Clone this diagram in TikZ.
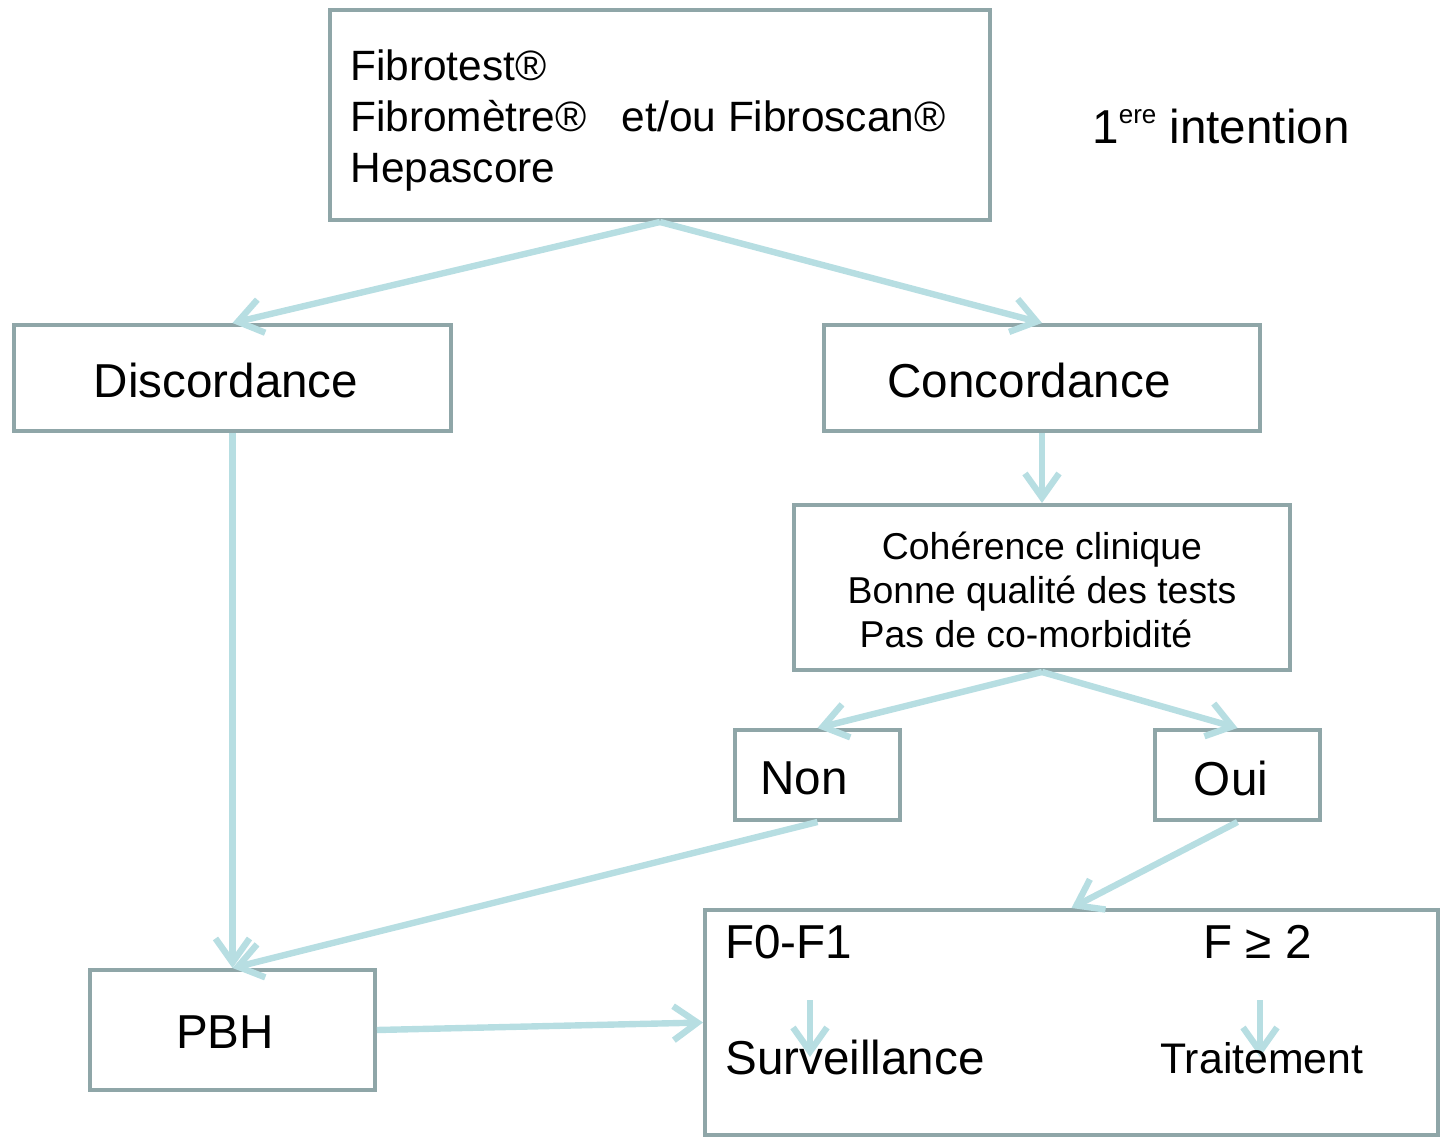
\documentclass[tikz,border=0pt]{standalone}
\usepackage{fontspec}
\setmainfont{Liberation Sans}
\usetikzlibrary{arrows.meta}
\definecolor{boxgray}{RGB}{143,166,168}
\definecolor{flowblue}{RGB}{183,222,226}

\tikzset{
box/.style={draw=boxgray,line width=2pt,inner sep=0pt},
flow/.style={draw=flowblue,line width=3.2pt,-{Straight Barb[length=12pt,width=17pt]}},
txt/.style={inner sep=0pt,font=\fontsize{#1}{#1}\selectfont},
}

\begin{document}
\begin{tikzpicture}[x=0.5pt,y=-0.5pt]
\useasboundingbox (0,0) rectangle (1441,1139);
% boxes
\node[box,minimum width=330pt,minimum height=105pt] (tests) at (660,115) {};
\node[box,minimum width=218.5pt,minimum height=53pt] (disc) at (232.5,378) {};
\node[box,minimum width=218pt,minimum height=53pt] (conc) at (1042,378) {};
\node[box,minimum width=248pt,minimum height=82.5pt] (coh) at (1042,587.5) {};
\node[box,minimum width=82.5pt,minimum height=45pt] (non) at (817.5,775) {};
\node[box,minimum width=82.5pt,minimum height=45pt] (oui) at (1237.5,775) {};
\node[box,minimum width=142.5pt,minimum height=60pt] (pbh) at (232.5,1030) {};
\node[box,minimum width=366.5pt,minimum height=112.5pt] (result) at (1071.5,1022.5) {};
% connectors
\draw[flow] (tests.south) -- (disc.north);
\draw[flow] (tests.south) -- (conc.north);
\draw[flow] (conc.south) -- (coh.north);
\draw[flow] (coh.south) -- (non.north);
\draw[flow] (coh.south) -- (oui.north);
\draw[flow] (disc.south) -- (pbh.north);
\draw[flow] (non.south) -- (pbh.north);
\draw[flow] (oui.south) -- (result.north);
\draw[flow] (pbh.east) -- (result.west);
\foreach \x/\n in {810/surv,1260/trait} {
\coordinate (\n-a) at (\x,1000);
\coordinate (\n-b) at (\x,1057);
\draw[flow] (\n-a) -- (\n-b);
}
% labels
\node[txt=21,anchor=west,align=left,font=\fontsize{21.2}{25.5}\selectfont] (tests-t) at (350,121)
{Fibrotest®\\Fibromètre®\ \ \ et/ou Fibroscan®\\Hepascore};
\node[txt=23.8,anchor=west] (first) at (1092,126)
{1\raisebox{9.8pt}{\fontsize{13}{13}\selectfont ere} intention};
\node[txt=23.8] (disc-t) at (226,380) {Discordance};
\node[txt=23.8] (conc-t) at (1029,380) {Concordance};
\node[txt=18.7,align=center,font=\fontsize{18.7}{22.2}\selectfont] (coh-t) at (1042,590)
{Cohérence clinique\\Bonne qualité des tests\\Pas de co-morbidité\hspace{16pt}\mbox{}};
\node[txt=23.8] (non-t) at (804,778) {Non};
\node[txt=23.8] (oui-t) at (1231,778) {Oui};
\node[txt=23.8] (pbh-t) at (225,1032) {PBH};
\node[txt=23.8,anchor=west] (f01) at (725,942) {F0-F1};
\node[txt=23.8,anchor=west] (f2) at (1203,942) {F ≥ 2};
\node[txt=23.8,anchor=west] (surv) at (725,1057) {Surveillance};
\node[txt=21.4,anchor=west] (trait) at (1160,1058) {Traitement};
\end{tikzpicture}
\end{document}
